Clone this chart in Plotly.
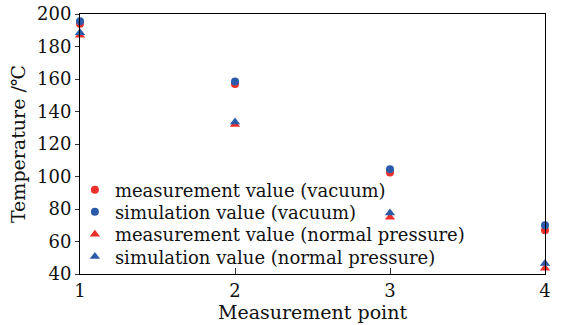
import plotly.graph_objects as go

points = [1, 2, 3, 4]
meas_vacuum = [194, 157, 102.5, 67]
sim_vacuum = [195.5, 158.5, 104.5, 70]
meas_normal = [187, 132, 75, 43.5]
sim_normal = [188.5, 133.5, 77.5, 46.5]

names = [
    "measurement value (vacuum)",
    "simulation value (vacuum)",
    "measurement value (normal pressure)",
    "simulation value (normal pressure)",
]
RED = "#ee2f2a"
BLUE = "#2b5ba8"

fig = go.Figure()
series = [
    (meas_vacuum, names[0], RED, "circle", "legend"),
    (sim_vacuum, names[1], BLUE, "circle", "legend2"),
    (meas_normal, names[2], RED, "triangle-up", "legend3"),
    (sim_normal, names[3], BLUE, "triangle-up", "legend4"),
]
for vals, name, col, sym, lg in series:
    fig.add_trace(go.Scatter(
        x=points, y=vals, mode="markers", name=name, cliponaxis=False, legend=lg,
        marker=dict(color=col, symbol=sym, size=8 if sym == "circle" else 9,
                    line=dict(width=0)),
    ))

legend_rows = [0.323, 0.238, 0.152, 0.066]
def lg(yv):
    return dict(x=-0.011, y=yv, xanchor="left", yanchor="middle",
                bgcolor="rgba(0,0,0,0)", borderwidth=0,
                font=dict(family="DejaVu Serif", size=18, color="#111"),
                itemwidth=30)

font = dict(family="DejaVu Serif", size=16, color="#111")
fig.update_layout(
    width=561, height=325,
    margin=dict(l=80, r=16, t=14, b=51, autoexpand=False),
    plot_bgcolor="white", paper_bgcolor="white",
    font=font,
    showlegend=True,
    legend=lg(legend_rows[0]),
    legend2=lg(legend_rows[1]),
    legend3=lg(legend_rows[2]),
    legend4=lg(legend_rows[3]),
    xaxis=dict(range=[1, 4], tickvals=points, ticktext=["1", "2", "3", "4"],
               showline=True, linecolor="black", linewidth=1, mirror=True,
               ticks="inside", ticklen=6, tickcolor="#333", showgrid=False, zeroline=False,
               automargin=False,
               title=dict(text="Measurement point", standoff=2),
               tickfont=dict(family="DejaVu Serif", size=18)),
    yaxis=dict(range=[40, 200], tickvals=list(range(40, 201, 20)),
               showline=True, linecolor="black", linewidth=1, mirror=True,
               ticks="outside", ticklen=4, tickcolor="#333", showgrid=False, zeroline=False,
               automargin=False,
               title=dict(text="Temperature /℃", standoff=6),
               tickfont=dict(family="DejaVu Serif", size=18)),
)
fig.write_html("out.html", config={"displayModeBar": False},
               post_script="document.body.style.margin='0';document.body.style.overflow='hidden';")
